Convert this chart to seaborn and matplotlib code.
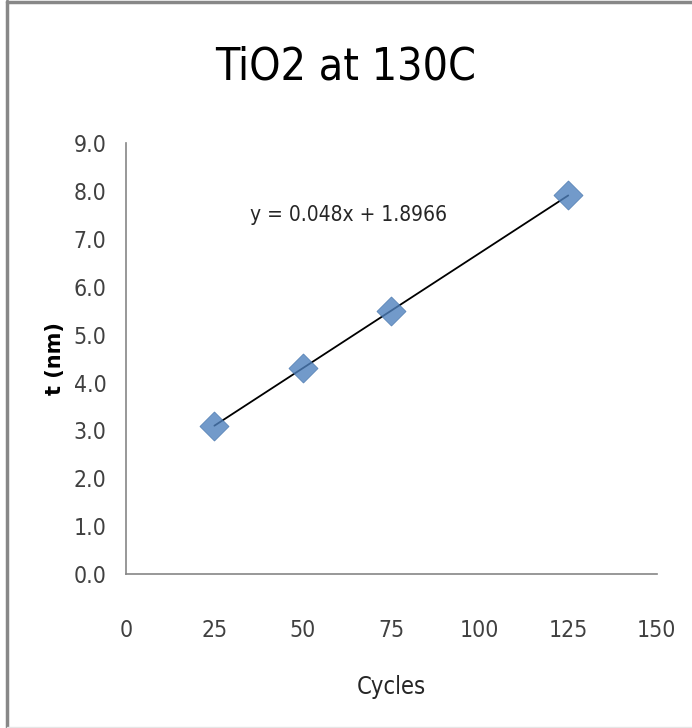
import numpy as np
import pandas as pd
import seaborn as sns
import matplotlib.pyplot as plt
from matplotlib.lines import Line2D

cycles = [25, 50, 75, 125]
thickness = [3.1, 4.3, 5.5, 7.9]
x_ticks = [0, 25, 50, 75, 100, 125, 150]
y_ticks = [0, 1, 2, 3, 4, 5, 6, 7, 8, 9]
equation = "y = 0.048x + 1.8966"

df = pd.DataFrame({"Cycles": cycles, "t (nm)": thickness})

sns.set_style("white")
plt.rcParams['font.family'] = ['DejaVu Sans']
plt.rcParams['font.stretch'] = 'condensed'

fig = plt.figure(figsize=(6.92, 7.28), dpi=100)
ax = fig.add_axes([0.182, 0.211, 0.767, 0.593])

sns.regplot(data=df, x="Cycles", y="t (nm)", ax=ax, ci=None, truncate=True,
            marker="D",
            scatter_kws=dict(s=220, color="#4F81BD", edgecolor="#3F6FA8", linewidths=0.5, zorder=3),
            line_kws=dict(color="black", lw=1.3, zorder=2))

ax.set_xlim(0, 150)
ax.set_ylim(0, 9)
ax.set_xticks(x_ticks)
ax.set_yticks(y_ticks)
ax.set_yticklabels([f"{v:.1f}" for v in y_ticks])
ax.tick_params(axis="both", direction="out", length=6, width=1, color="#868686",
               labelsize=16.5, labelcolor="#404040", pad=8)
ax.tick_params(axis="x", pad=26)
for side in ["top", "right"]:
    ax.spines[side].set_visible(False)
for side in ["left", "bottom"]:
    ax.spines[side].set_color("#868686")
    ax.spines[side].set_linewidth(1.2)

ax.set_xlabel("Cycles", fontsize=17, color="#262626", labelpad=24)
ax.set_ylabel("t (nm)", fontsize=15, fontweight="bold", fontstretch="normal",
              color="black", labelpad=6)
fig.suptitle("TiO2 at 130C", fontsize=32, y=0.937, color="black")

ax.text(35, 7.5, equation, fontsize=15, color="#262626", va="center", ha="left")

# frame of the pasted chart image: dark left and top edges
fig.add_artist(Line2D([0.0094, 0.0094], [0, 0.998], transform=fig.transFigure,
                      color="#888888", lw=2.5))
fig.add_artist(Line2D([0.0094, 1], [0.997, 0.997], transform=fig.transFigure,
                      color="#888888", lw=2.5))
fig.add_artist(Line2D([0.0094, 1], [0.002, 0.002], transform=fig.transFigure,
                      color="#e6e6e6", lw=1))

fig.savefig("out.png", dpi=100)
